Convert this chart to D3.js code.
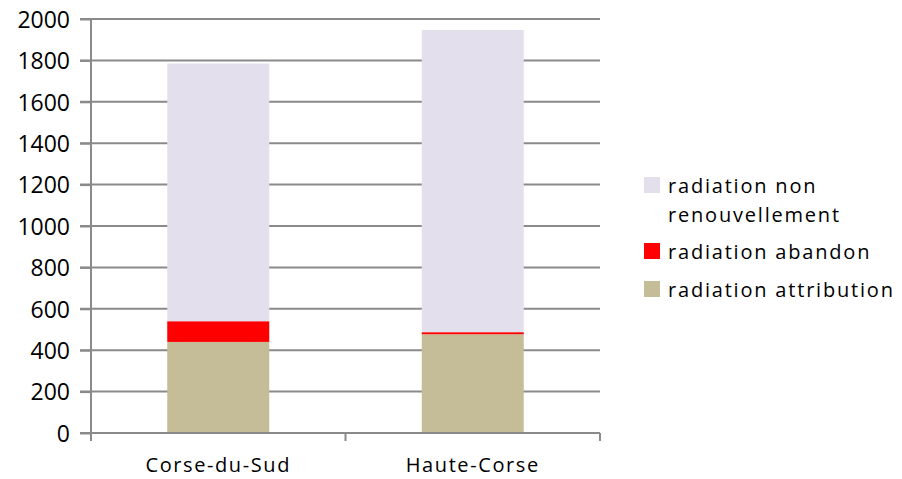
<!DOCTYPE html>
<meta charset="utf-8">
<script src="https://d3js.org/d3.v7.min.js"></script>
<style>
  body { margin: 0; background: #fff; }
  text { font-family: "Open Sans", sans-serif; fill: #000; }
</style>
<div id="main"></div>
<script>

var width = 902
var height = 479

// data
var departements = ["Corse-du-Sud", "Haute-Corse"]
var attribution = [440, 477]
var abandon = [100, 10]
var nonRenouvellement = [1245, 1460]
var seriesNames = ["radiation attribution", "radiation abandon", "radiation non renouvellement"]
var seriesColors = ["#C4BD97", "#FF0000", "#E4DFEC"]
var yTicks = [0, 200, 400, 600, 800, 1000, 1200, 1400, 1600, 1800, 2000]

var rows = departements.map(function(d, i) {
  return { dep: d, attribution: attribution[i], abandon: abandon[i], nonRenouvellement: nonRenouvellement[i] }
})
var keys = ["attribution", "abandon", "nonRenouvellement"]
var stacked = d3.stack().keys(keys)(rows)

var svg = d3.select("#main")
  .append("svg")
    .attr("width", width)
    .attr("height", height)

var x = d3.scaleBand().domain(departements).range([91, 600]).paddingInner(0).paddingOuter(0)
var y = d3.scaleLinear().domain([0, 2000]).range([433, 19])
var barW = 102

// gridlines
svg.append("g")
  .selectAll("line")
  .data(yTicks.slice(1))
  .enter()
  .append("line")
    .attr("x1", 80)
    .attr("x2", 600)
    .attr("y1", d => y(d))
    .attr("y2", d => y(d))
    .attr("stroke", "#8a8a8a")
    .attr("stroke-width", 2)

// bars
svg.append("g")
  .selectAll("g")
  .data(stacked)
  .enter()
  .append("g")
    .attr("fill", (d, i) => seriesColors[i])
  .selectAll("rect")
  .data(d => d)
  .enter()
  .append("rect")
    .attr("x", d => x(d.data.dep) + (x.bandwidth() - barW) / 2)
    .attr("width", barW)
    .attr("y", d => y(d[1]))
    .attr("height", d => y(d[0]) - y(d[1]))

// y axis
var yAxis = svg.append("g")
  .attr("transform", "translate(91,0)")
  .call(d3.axisLeft(y).tickValues(yTicks).tickSize(11).tickPadding(10).tickFormat(d3.format("d")))
yAxis.select(".domain").attr("d", "M0," + y(2000) + "V" + (y(0) + 8))
yAxis.selectAll("line, path").attr("stroke", "#8a8a8a").attr("stroke-width", 2)
yAxis.selectAll("text")
  .style("font-size", "23px")
  .attr("fill", "#000")
  .attr("dy", "0.36em")

// x axis
var xAxis = svg.append("g")
  .attr("transform", "translate(0," + y(0) + ")")
xAxis.append("line")
  .attr("x1", 80).attr("x2", 600)
  .attr("stroke", "#8a8a8a").attr("stroke-width", 2)
xAxis.selectAll(".tk")
  .data([91, 91 + x.bandwidth(), 600])
  .enter()
  .append("line")
    .attr("x1", d => d).attr("x2", d => d)
    .attr("y1", 0).attr("y2", 8)
    .attr("stroke", "#8a8a8a").attr("stroke-width", 2)
xAxis.selectAll("text")
  .data(departements)
  .enter()
  .append("text")
    .attr("x", d => x(d) + x.bandwidth() / 2)
    .attr("y", 39)
    .attr("text-anchor", "middle")
    .style("font-size", "20px")
    .style("letter-spacing", "1.6px")
    .text(d => d)

// legend
var legend = svg.append("g").attr("transform", "translate(644,0)")
var legendItems = [
  { name: seriesNames[2], color: seriesColors[2], y: 177, lines: ["radiation non", "renouvellement"] },
  { name: seriesNames[1], color: seriesColors[1], y: 243, lines: ["radiation abandon"] },
  { name: seriesNames[0], color: seriesColors[0], y: 281, lines: ["radiation attribution"] }
]
legendItems.forEach(function(item) {
  legend.append("rect")
    .attr("x", 0).attr("y", item.y)
    .attr("width", 16).attr("height", 16)
    .attr("fill", item.color)
  var t = legend.append("text")
    .attr("x", 24).attr("y", item.y + 16)
    .style("font-size", "20px")
    .style("letter-spacing", "1.8px")
  item.lines.forEach(function(l, j) {
    t.append("tspan").attr("x", 24).attr("dy", j === 0 ? 0 : 29).text(l)
  })
})

</script>
